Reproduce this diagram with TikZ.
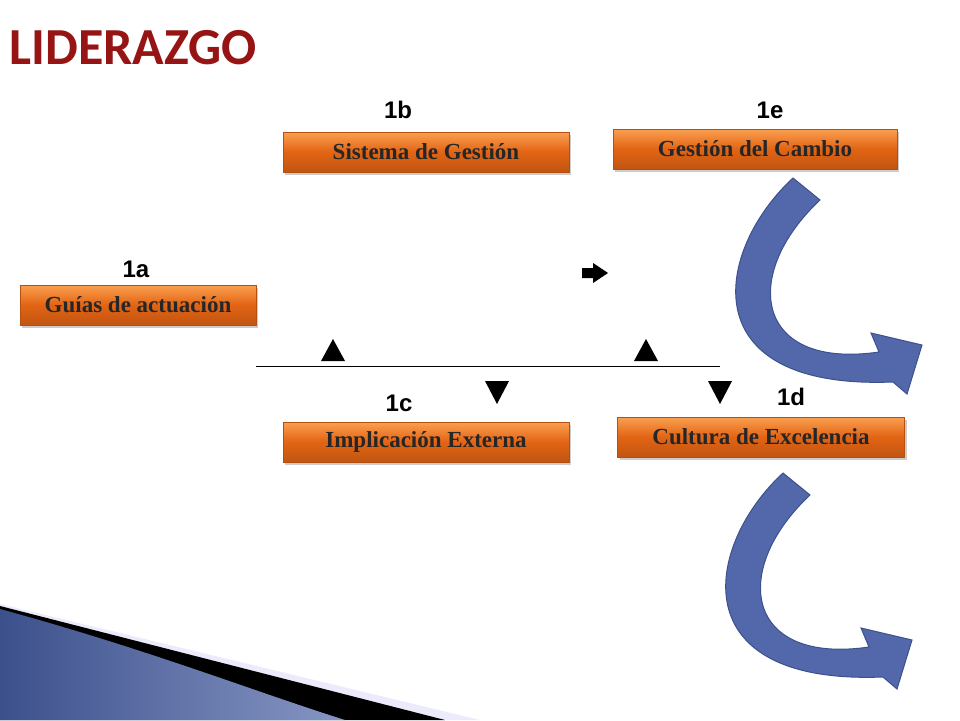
\documentclass[tikz,border=0pt]{standalone}
\usepackage{fontspec}
\setmainfont{Liberation Serif}
\newfontfamily\arial{Liberation Sans}
\newfontfamily\titlefont{Carlito}
\usetikzlibrary{shadows}
\definecolor{obox}{RGB}{226,100,20}
\definecolor{oboxl}{RGB}{250,160,80}
\definecolor{arrblue}{RGB}{82,104,170}
\definecolor{arrdark}{RGB}{60,80,140}
\definecolor{ttl}{RGB}{150,20,20}
\tikzset{
  obx/.style={draw=obox!80!black, line width=0.4pt, top color=oboxl, bottom color=obox!85!black, middle color=obox,
    minimum height=40pt, inner sep=0pt, font=\bfseries\fontsize{23}{25}\selectfont, text=black!85,
    drop shadow={shadow xshift=2pt, shadow yshift=-3pt, fill=black!40}},
  lbl/.style={font=\arial\bfseries\fontsize{24}{26}\selectfont},
  tri/.style={fill=black},
  bigarrow/.style={fill=arrblue, draw=arrdark, line width=1pt}
}
\begin{document}
\begin{tikzpicture}[x=1pt,y=-1pt]
\useasboundingbox (0,0) rectangle (960,720);
% title
\node[anchor=west, text=ttl, font=\titlefont\bfseries\fontsize{52}{52}\selectfont] (title) at (6,48) {LIDERAZGO};
% boxes
\node[obx, minimum width=286pt] (b) at (426,152) {Sistema de Gestión};
\node[obx, minimum width=284pt] (e) at (755,149) {Gestión del Cambio};
\node[obx, minimum width=236pt] (a) at (138,305) {Guías de actuación};
\node[obx, minimum width=286pt] (c) at (426,442) {Implicación Externa};
\node[obx, minimum width=287pt] (d) at (761,437) {Cultura de Excelencia};
% labels
\node[lbl] (l1b) at (398,110) {1b};
\node[lbl] (l1e) at (770,110) {1e};
\node[lbl] (l1a) at (136,269) {1a};
\node[lbl] (l1c) at (399,403) {1c};
\node[lbl] (l1d) at (791,397) {1d};
% line and triangles
\coordinate (ls) at (256,366); \coordinate (le) at (720,366);
\draw[line width=0.6pt] (ls) -- (le);
\fill[tri] (321,361) -- (345,361) -- (333,339) -- cycle;
\fill[tri] (634,361) -- (658,361) -- (646,339) -- cycle;
\fill[tri] (485,381) -- (509,381) -- (497,404) -- cycle;
\fill[tri] (708,381) -- (732,381) -- (720,404) -- cycle;
\fill[tri] (582,268) -- (593,268) -- (593,263) -- (608,273) -- (593,283) -- (593,278) -- (582,278) -- cycle;
% curved arrows
\def\carrow{(793,178) .. controls (715,250) and (690,390) .. (893,382) -- (907,394) -- (922,345) -- (871,333) -- (879,352) .. controls (755,370) and (740,275) .. (820,200) -- cycle}
\path[bigarrow] \carrow;
\begin{scope}[shift={(-10,295)}]
\path[bigarrow] \carrow;
\end{scope}
% bottom-left decoration
\fill[black!12!blue!8] (0,604) -- (480,720) -- (0,720) -- cycle;
\fill[black] (0,606) -- (445,720) -- (0,720) -- cycle;
\shade[left color=arrdark, right color=arrblue!70!white, shading angle=90] (0,609) .. controls (150,650) and (250,690) .. (345,720) -- (0,720) -- cycle;
\end{tikzpicture}
\end{document}
